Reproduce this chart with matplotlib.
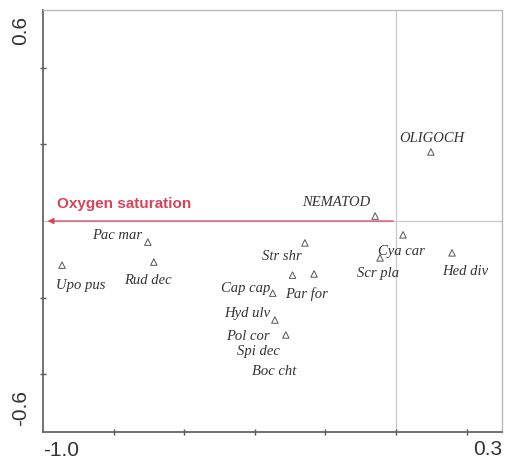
import matplotlib
matplotlib.use("Agg")
import matplotlib.pyplot as plt

# species scores (triangles)
species = ["OLIGOCH", "NEMATOD", "Cya car", "Scr pla", "Hed div", "Str shr",
           "Par for", "Cap cap", "Hyd ulv", "Pol cor", "Spi dec", "Boc cht",
           "Pac mar", "Upo pus", "Rud dec"]
sp_x = [0.099, -0.059, 0.020, -0.045, 0.159, -0.258,
        -0.232, -0.349, -0.343, -0.312, -0.293, -0.312,
        -0.703, -0.946, -0.686]
sp_y = [0.180, 0.013, -0.036, -0.096, -0.083, -0.057,
        -0.138, -0.188, -0.258, -0.297, -0.141, -0.297,
        -0.055, -0.115, -0.107]
# which species get a drawn triangle
has_marker = [True, True, True, True, True, True,
              True, True, True, True, True, False,
              True, True, True]

# environmental variable arrow
env_name = "Oxygen saturation"
env_x = -0.995
env_y = 0.0

# label offsets in points (dx, dy) and alignment
label_pos = {
    "OLIGOCH": (0.7, 10, "center"),
    "NEMATOD": (-3.5, 9.5, "right"),
    "Cya car": (-18, -12, "left"),
    "Scr pla": (-16.5, -11, "left"),
    "Hed div": (-7, -13.7, "left"),
    "Str shr": (-2, -10, "right"),
    "Par for": (-21, -14.4, "left"),
    "Cap cap": (-2, 3.6, "right"),
    "Hyd ulv": (-3.6, 5, "right"),
    "Pol cor": (-11.5, -1, "right"),
    "Spi dec": (-40, -55, "left"),
    "Boc cht": (-24.5, -26.6, "left"),
    "Pac mar": (-4.3, 5, "right"),
    "Upo pus": (-4.3, -15, "left"),
    "Rud dec": (-21.6, -13, "left"),
}

fig = plt.figure(figsize=(5.1, 4.61), dpi=100)
ax = fig.add_axes([0.0843, 0.0629, 0.8997, 0.9153])
ax.set_xlim(-1.0, 0.3)
ax.set_ylim(-0.55, 0.55)

# zero lines
ax.axhline(0, color="#c8c8c8", lw=0.9, zorder=1)
ax.axvline(0, color="#c8c8c8", lw=0.9, zorder=1)

# arrow
ax.annotate("", xy=(env_x, env_y), xytext=(0, 0),
            arrowprops=dict(arrowstyle="-|>", color="#d9445a", lw=0.9,
                            mutation_scale=9), zorder=3)
ax.text(-0.96, 0.044, env_name, color="#d9445a", fontsize=11,
        fontweight="bold", family="Liberation Sans", va="center", ha="left")

mx = [x for x, m in zip(sp_x, has_marker) if m]
my = [y for y, m in zip(sp_y, has_marker) if m]
ax.scatter(mx, my, marker="^", s=22, facecolors="none", edgecolors="#555555",
           linewidths=0.7, zorder=4)

for name, x, y in zip(species, sp_x, sp_y):
    dx, dy, ha = label_pos[name]
    ax.annotate(name, (x, y), xytext=(dx, dy), textcoords="offset points",
                ha=ha, va="center", fontsize=10.5, style="italic",
                family="Liberation Serif", color="#333333")

# frame and ticks
for s in ax.spines.values():
    s.set_color("#666666")
    s.set_linewidth(1.3)
ax.spines["top"].set_color("#bbbbbb")
ax.spines["right"].set_color("#bbbbbb")
ax.spines["top"].set_linewidth(1.0)
ax.spines["right"].set_linewidth(1.0)
ax.set_xticks([-0.8, -0.6, -0.4, -0.2, 0.0, 0.2])
ax.set_yticks([-0.4, -0.2, 0.2, 0.4])
ax.tick_params(direction="inout", length=4, width=1, color="#555555",
               labelbottom=False, labelleft=False)

tick_font = dict(fontsize=15, family="Liberation Sans", color="#333333")
fig.text(0.0843, 0.022, "-1.0", ha="left", va="center", **tick_font)
fig.text(0.984, 0.026, "0.3", ha="right", va="center", **tick_font)
fig.text(0.040, 0.935, "0.6", ha="center", va="center", rotation=90, **tick_font)
fig.text(0.040, 0.115, "-0.6", ha="center", va="center", rotation=90, **tick_font)

fig.savefig("out.png", dpi=100)
